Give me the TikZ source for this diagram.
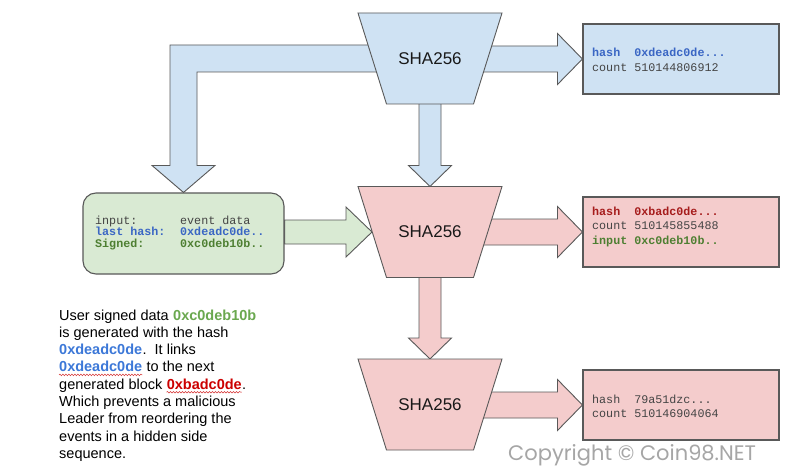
\documentclass[tikz,border=0pt]{standalone}
\usepackage{fontspec}
\setmainfont{Liberation Sans}
\newfontfamily\monof{Liberation Mono}
\newfontfamily\wmf{Poppins}
\usetikzlibrary{calc,decorations.pathmorphing}
\pgfdeclarelayer{bg}
\pgfsetlayers{bg,main}
\definecolor{lblue}{HTML}{CFE2F3}
\definecolor{lpink}{HTML}{F4CCCC}
\definecolor{lgreen}{HTML}{D9EAD3}
\definecolor{edge}{HTML}{595959}
\definecolor{tblue}{HTML}{3A66C4}
\definecolor{tgreen}{HTML}{4E7F32}
\definecolor{tred}{HTML}{A61C1C}
\definecolor{tgray}{HTML}{444444}
\definecolor{pgreen}{HTML}{6AA84F}
\definecolor{pblue}{HTML}{3C78D8}
\definecolor{pred}{HTML}{CC0000}
\definecolor{wmgray}{HTML}{A6A6A6}
\tikzset{
  shape line/.style={draw=edge, line width=0.9pt, line join=miter},
  trapline/.style={shape line},
  shalbl/.style={inner sep=0, font=\fontsize{17}{17}\selectfont, text=black!90},
  blk/.style={shape line},
  databox/.style={draw=edge, line width=1.1pt, minimum width=196, minimum height=70, inner sep=0},
  txt/.style={inner sep=0, anchor=base west},
  mono/.style={txt, font=\monof\fontsize{11.7}{14}\selectfont, text=tgray},
  monob/.style={mono, font=\monof\bfseries\fontsize{11.7}{14}\selectfont},
  para/.style={txt, font=\fontsize{14.5}{17}\selectfont, text=black},
  parab/.style={para, font=\bfseries\fontsize{14.5}{17}\selectfont},
  squig/.style={draw=pred!80, line width=0.5pt, decorate, decoration={snake, amplitude=0.8pt, segment length=3pt}}
}
\newcommand\trapz[4]{%
  \draw[trapline,fill=#4] (#2-72,#3-45.5) -- (#2+72,#3-45.5) -- (#2+43.5,#3+45.5) -- (#2-43.5,#3+45.5) -- cycle;
  \node[shalbl] (#1) at (#2,#3) {SHA256};
  \coordinate (#1-n) at (#2,#3-45.5);
  \coordinate (#1-w) at (#2-58,#3);}
% horizontal block arrow: style, from, to, shaft half, head half, head length
\newcommand\harr[6]{%
  \draw[#1] let \p1=(#2), \p2=(#3) in (\x1,\y2+#4pt) -- (\x2-#6pt,\y2+#4pt) -- (\x2-#6pt,\y2+#5pt) -- (\p2) -- (\x2-#6pt,\y2-#5pt) -- (\x2-#6pt,\y2-#4pt) -- (\x1,\y2-#4pt) -- cycle;}
% downward block arrow
\newcommand\varr[6]{%
  \draw[#1] let \p1=(#2), \p2=(#3) in (\x2-#4pt,\y1) -- (\x2-#4pt,\y2+#6pt) -- (\x2-#5pt,\y2+#6pt) -- (\p2) -- (\x2+#5pt,\y2+#6pt) -- (\x2+#4pt,\y2+#6pt) -- (\x2+#4pt,\y1) -- cycle;}
\begin{document}
\begin{tikzpicture}[x=1pt,y=-1pt]
\useasboundingbox (0,0) rectangle (800,468);

% hash functions
\trapz{h1}{430}{58.5}{lblue}
\trapz{h2}{430}{232}{lpink}
\trapz{h3}{430}{404.5}{lpink}

% output boxes
\node[databox, fill=lblue] (b1) at (681,59) {};
\node[databox, fill=lpink] (b2) at (681,232) {};
\node[databox, fill=lpink] (b3) at (681,405) {};

% input box
\node[draw=edge, line width=1.1pt, fill=lgreen, rounded corners=13, minimum width=201, minimum height=81, inner sep=0] (g) at (183.5,233.5) {};

% box texts
\node[monob, text=tblue] (b1l1) at (592,57) {hash\ \ 0xdeadc0de...};
\node[mono] (b1l2) at (592,72) {count 510144806912};

\node[monob, text=tred] (b2l1) at (592,215) {hash\ \ 0xbadc0de...};
\node[mono] (b2l2) at (592,229.5) {count 510145855488};
\node[monob, text=tgreen] (b2l3) at (592,244) {input 0xc0deb10b..};

\node[mono] (b3l1) at (592,403) {hash\ \ 79a51dzc...};
\node[mono] (b3l2) at (592,417) {count 510146904064};

\node[mono] (g1a) at (95,224) {input:};
\node[mono] (g1b) at (180,224) {event data};
\node[monob, text=tblue] (g2a) at (95,235.7) {last hash:};
\node[monob, text=tblue] (g2b) at (180,235.7) {0xdeadc0de..};
\node[monob, text=tgreen] (g3a) at (95,247.4) {Signed:};
\node[monob, text=tgreen] (g3b) at (180,247.4) {0xc0deb10b..};

% block arrows
\begin{pgfonlayer}{bg}
  \fill[white] (0,0) rectangle (800,468);
  \draw[blk, fill=lblue] let \p1=(h1), \p2=(g.north) in
    (\x1,\y1+13.5pt) -- (\x2-13.5pt,\y1+13.5pt) -- (\x2-13.5pt,\y2+27pt) -- (\x2-31.5pt,\y2+27pt) -- (\p2)
    -- (\x2+31.5pt,\y2+27pt) -- (\x2+13.5pt,\y2+27pt) -- (\x2+13.5pt,\y1-13.5pt) -- (\x1,\y1-13.5pt) -- cycle;
  \harr{blk, fill=lblue}{h1}{b1.west}{13}{25.5}{25}
  \varr{blk, fill=lblue}{h1}{h2-n}{11}{21.5}{21}
  \harr{blk, fill=lpink}{h2}{b2.west}{13}{25.5}{25}
  \varr{blk, fill=lpink}{h2}{h3-n}{11}{21.5}{21}
  \harr{blk, fill=lpink}{h3}{b3.west}{13}{25.5}{25}
  \harr{blk, fill=lgreen}{g.east}{h2-w}{12}{25}{26}
\end{pgfonlayer}

% explanatory paragraph
\node[para] (p1a) at (59,320) {User signed data};
\node[parab, text=pgreen] (p1b) at ([xshift=4pt]p1a.base east) {0xc0deb10b};
\node[para] (p2) at (59,337.3) {is generated with the hash};
\node[parab, text=pblue] (p3a) at (59,354.6) {0xdeadc0de};
\node[para] (p3b) at (p3a.base east) {.\ \ It links};
\node[parab, text=pblue] (p4a) at (59,371.9) {0xdeadc0de};
\node[para] (p4b) at ([xshift=4pt]p4a.base east) {to the next};
\node[para] (p5a) at (59,389.2) {generated block};
\node[parab, text=pred] (p5b) at ([xshift=4pt]p5a.base east) {0xbadc0de};
\node[para] (p5c) at (p5b.base east) {.};
\node[para] (p6) at (59,406.5) {Which prevents a malicious};
\node[para] (p7) at (59,423.8) {Leader from reordering the};
\node[para] (p8) at (59,441.1) {events in a hidden side};
\node[para] (p9) at (59,458.4) {sequence.};
\draw[squig] ($(p4a.base west)+(0,3)$) -- ($(p4a.base east)+(0,3)$);
\draw[squig] ($(p5b.base west)+(0,3)$) -- ($(p5b.base east)+(0,3)$);

% watermark
\node[txt, font=\wmf\fontsize{21}{21}\selectfont, text=wmgray] (cr) at (508,460) {Copyright © Coin98.NET};
\end{tikzpicture}
\end{document}
